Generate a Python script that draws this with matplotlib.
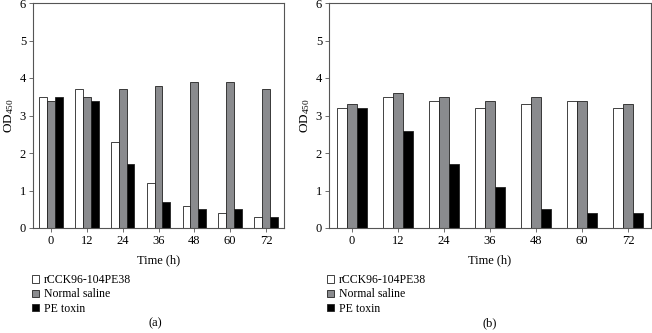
import numpy as np
import matplotlib
matplotlib.use('Agg')
import matplotlib.pyplot as plt
from matplotlib.patches import Patch

plt.rcParams['font.family'] = 'Liberation Serif'
plt.rcParams['mathtext.fontset'] = 'custom'
plt.rcParams['mathtext.rm'] = 'Liberation Serif'
plt.rcParams['mathtext.default'] = 'rm'

# data
times = ['0', '12', '24', '36', '48', '60', '72']
series = ['rCCK96-104PE38', 'Normal saline', 'PE toxin']
colors = ['white', '#8a8b8e', 'black']

rcck_a = [3.5, 3.7, 2.3, 1.2, 0.6, 0.4, 0.3]
saline_a = [3.4, 3.5, 3.7, 3.8, 3.9, 3.9, 3.7]
pe_a = [3.5, 3.4, 1.7, 0.7, 0.5, 0.5, 0.3]

rcck_b = [3.2, 3.5, 3.4, 3.2, 3.3, 3.4, 3.2]
saline_b = [3.3, 3.6, 3.5, 3.4, 3.5, 3.4, 3.3]
pe_b = [3.2, 2.6, 1.7, 1.1, 0.5, 0.4, 0.4]

panels = [('(a)', [rcck_a, saline_a, pe_a]), ('(b)', [rcck_b, saline_b, pe_b])]

fig = plt.figure(figsize=(6.52, 3.33), dpi=100)
axes = [fig.add_axes([33/652, 105/333, 251/652, 225/333]),
        fig.add_axes([329/652, 105/333, 322/652, 225/333])]

spine_col = '#555555'
x = np.arange(len(times))
w = 0.22
for ax, (label, data) in zip(axes, panels):
    for i, vals in enumerate(data):
        ax.bar(x + (i - 1) * w, vals, width=w, color=colors[i],
               edgecolor='#222222', linewidth=0.6, label=series[i])
    ax.set_xlim(-0.5, len(times) - 0.5)
    ax.set_ylim(0, 6)
    ax.set_xticks(x)
    ax.set_xticklabels(times)
    ax.set_yticks(range(7))
    ax.tick_params(labelsize=9, length=3, width=0.6, color=spine_col, pad=2)
    for s in ax.spines.values():
        s.set_color(spine_col)
        s.set_linewidth(0.8)
    ax.set_xlabel('Time (h)', fontsize=9, labelpad=5)
    ax.set_ylabel('OD$_{450}$', fontsize=9.5, labelpad=3)
    handles = [Patch(facecolor=c, edgecolor='#222222', linewidth=0.6) for c in colors]
    ax.legend(handles, series, loc='upper left', bbox_to_anchor=(-0.005, -0.205),
              frameon=False, fontsize=8.5, handlelength=0.6, handleheight=0.6,
              handletextpad=0.4, labelspacing=0.2, borderaxespad=0, borderpad=0)

fig.text(155/652, 1 - 323/333, '(a)', ha='center', va='center', fontsize=9)
fig.text(490/652, 1 - 323/333, '(b)', ha='center', va='center', fontsize=9)

fig.savefig('out.png', dpi=100)
